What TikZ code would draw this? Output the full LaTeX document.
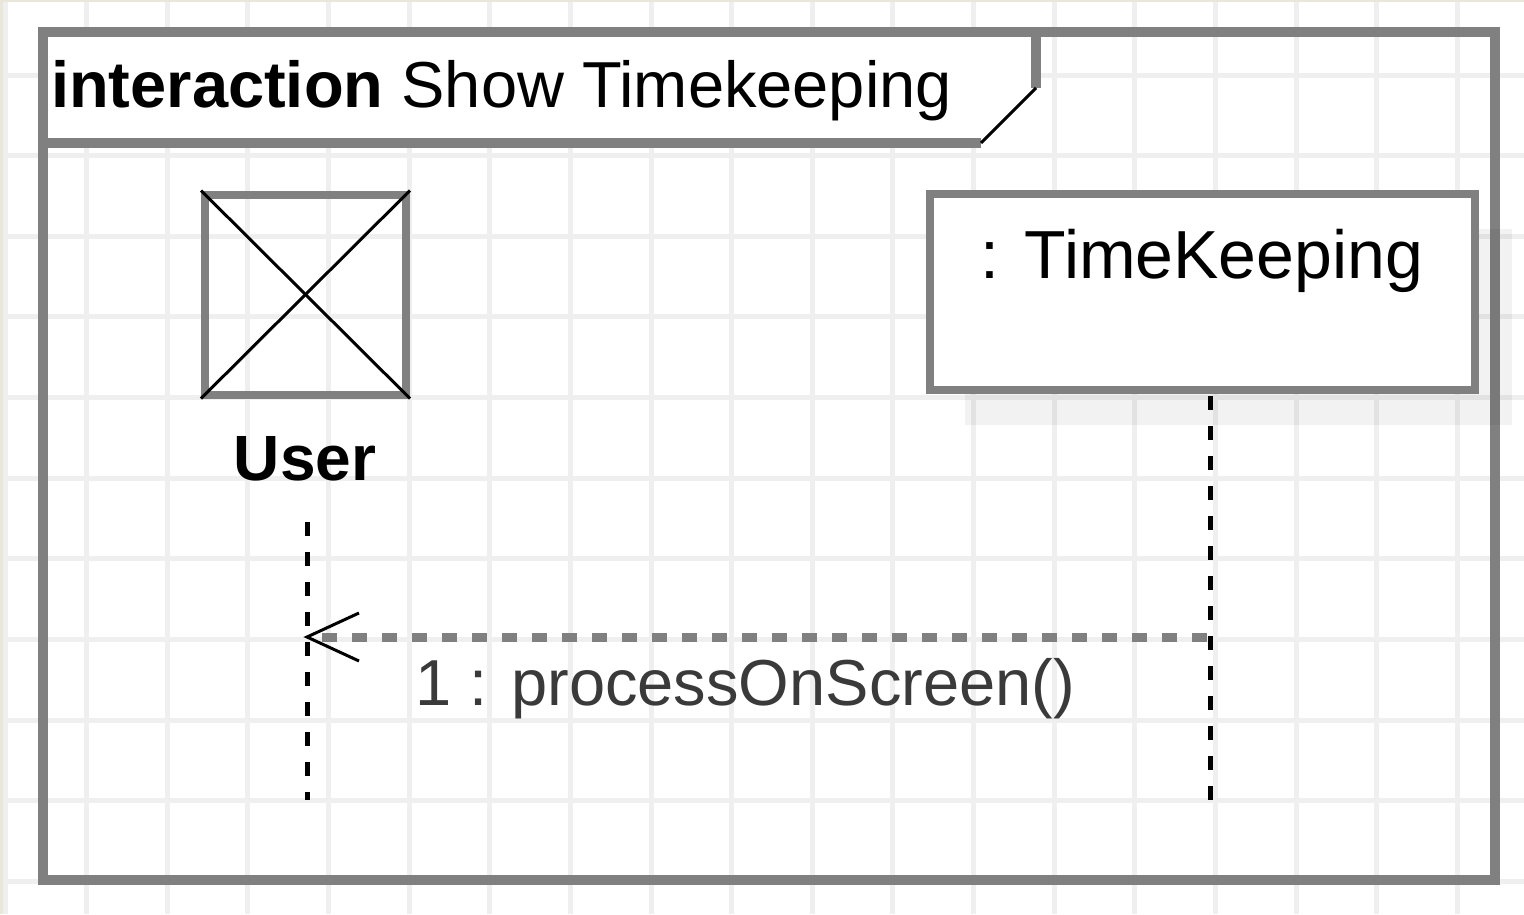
\documentclass[tikz,border=0pt]{standalone}
\usepackage{fontspec}
\setmainfont{Liberation Sans}
\usetikzlibrary{calc}
\definecolor{gridc}{HTML}{EFEFEF}
\definecolor{framec}{HTML}{808080}
\definecolor{beige}{HTML}{E9E7DB}
\definecolor{labelc}{HTML}{3A3A3A}
\tikzset{
  gridline/.style={draw=gridc, line width=5pt},
  framestroke/.style={draw=framec, line width=10pt},
  boxstroke/.style={draw=framec, line width=8pt},
  lifeline/.style={draw=black, line width=5pt, dash pattern=on 14pt off 16pt},
  msgline/.style={draw=framec, line width=9pt, dash pattern=on 15pt off 15pt},
  thinblack/.style={draw=black, line width=3pt},
  bigtext/.style={inner sep=0pt, font=\fontsize{65}{78}\selectfont},
}
\begin{document}
\begin{tikzpicture}[x=1pt, y=-1pt]
\useasboundingbox (0,0) rectangle (1524,914);
\fill[white] (0,0) rectangle (1524,914);
\fill[beige] (0,0) rectangle (7,914);
\fill[beige] (0,0) rectangle (1524,2);
% grid
\foreach \i in {0,...,18} { \draw[gridline] (5.9+80.64*\i, 2) -- (5.9+80.64*\i, 914); }
\foreach \j in {1,...,11} { \draw[gridline] (7, -5.6+80.64*\j) -- (1524, -5.6+80.64*\j); }
% frame title pentagon fill
\fill[white] (43,32) -- (1036,32) -- (1036,88) -- (981,143) -- (43,143) -- cycle;
% frame
\draw[framestroke] (43,32) rectangle (1495,880);
\draw[framestroke] (1036,32) -- (1036,88);
\draw[framestroke] (981,143) -- (43,143);
\draw[thinblack] (1036,88) -- (981,143);
\node[bigtext, anchor=base west] (title) at (51,107) {{\bfseries interaction} Show Timekeeping};
% TimeKeeping lifeline object
\fill[black, opacity=0.05] (965,229) rectangle (1512,425);
\node[boxstroke, fill=white, minimum width=545pt, minimum height=196pt, inner sep=0pt] (tk) at (1202.5,292) {};
\node[inner sep=0pt, font=\fontsize{68}{80}\selectfont, anchor=base] (tklabel) at (1202,278) {: TimeKeeping};
% User actor
\node[boxstroke, minimum width=201pt, minimum height=200pt, inner sep=0pt] (user) at (305.5,294.5) {};
\draw[thinblack] (user.north west) -- (user.south east);
\draw[thinblack] (user.north east) -- (user.south west);
\node[inner sep=0pt, font=\fontsize{64}{76}\selectfont\bfseries, anchor=base] (userlabel) at (305,480) {User};
% lifelines
\coordinate (ul0) at (307,522);
\coordinate (ul1) at (307,800);
\coordinate (tl0) at (1210,396);
\coordinate (tl1) at (1210,800);
\draw[lifeline] (ul0) -- (ul1);
\draw[lifeline] (tl0) -- (tl1);
% message
\coordinate (m1) at (1207,637);
\coordinate (m0) at (307,637);
\draw[msgline] (m1) -- ($(m0)+(6,0)$);
\draw[thinblack, line join=miter] ($(m0)+(52,-24)$) -- (m0) -- ($(m0)+(52,24)$);
\node[inner sep=0pt, font=\fontsize{65}{78}\selectfont, text=labelc, anchor=base] (msg) at (745,705) {1 : processOnScreen()};
\end{tikzpicture}
\end{document}
